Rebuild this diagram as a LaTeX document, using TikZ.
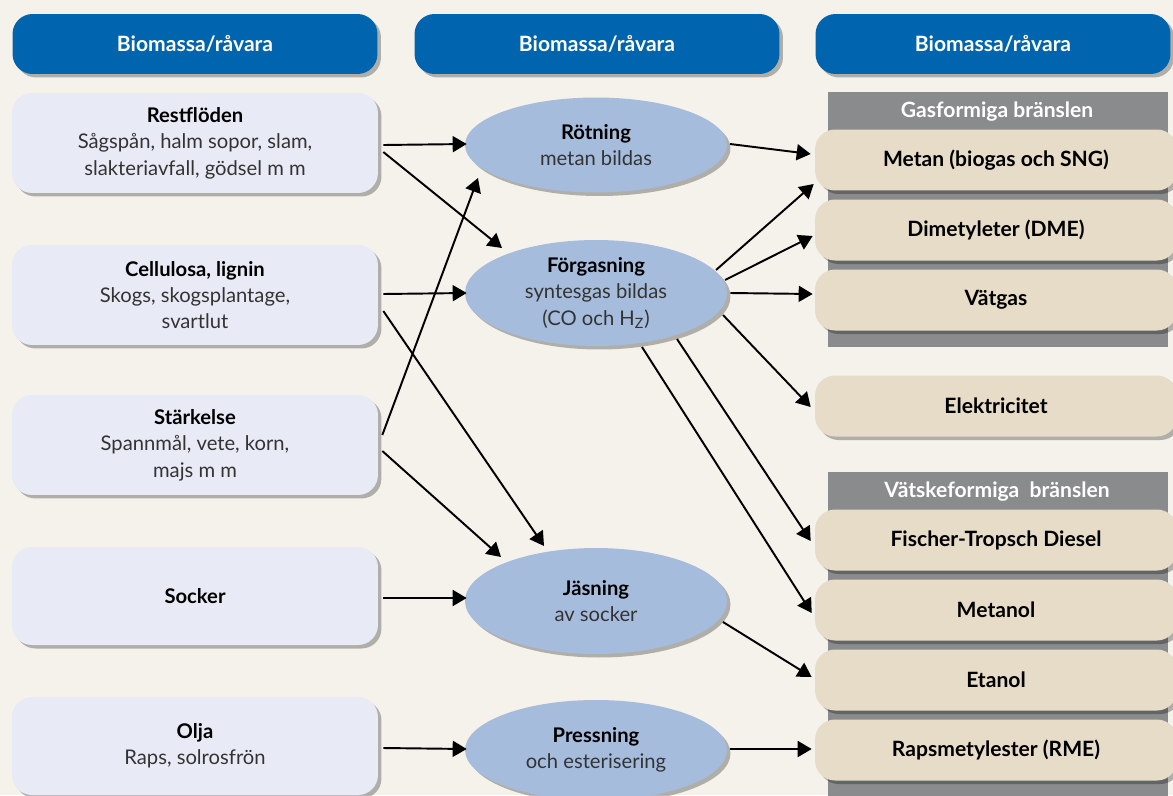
\documentclass[tikz,border=0pt]{standalone}
\usepackage{fontspec}
\setmainfont{Lato}
\usetikzlibrary{shapes.geometric,arrows.meta,shadows,calc}

\definecolor{bgcol}{HTML}{F5F2EB}
\definecolor{hdrblue}{HTML}{0064AE}
\definecolor{srcfill}{HTML}{E8EAF6}
\definecolor{procfill}{HTML}{A6BCDD}
\definecolor{fuelfill}{HTML}{E6DCC8}
\definecolor{panelgray}{HTML}{8A8B8D}
\definecolor{bodytext}{HTML}{333333}

\newcommand{\titlefont}{\fontsize{12}{15}\selectfont\bfseries}
\newcommand{\bodyfont}{\fontsize{11.5}{15}\selectfont}

\tikzset{
  boxshadow/.style={drop shadow={shadow xshift=0.07cm, shadow yshift=-0.07cm, fill=black, opacity=0.28}},
  hdr/.style={rectangle, rounded corners=0.4cm, fill=hdrblue, text=white, font=\titlefont,
    minimum width=7.3cm, minimum height=1.2cm, boxshadow},
  src/.style={rectangle, rounded corners=0.4cm, fill=srcfill, align=center, font=\bodyfont,
    text=bodytext, minimum width=7.32cm, minimum height=2cm, boxshadow},
  proc/.style={ellipse, fill=procfill, align=center, font=\bodyfont, text=bodytext,
    minimum width=5.24cm, minimum height=2.1cm, inner sep=0pt, boxshadow},
  fuel/.style={rectangle, rounded corners=0.4cm, fill=fuelfill, font=\titlefont,
    minimum width=7.24cm, minimum height=1.22cm, boxshadow},
  panel/.style={fill=panelgray},
  paneltitle/.style={text=white, font=\titlefont},
  arr/.style={-{Triangle[length=0.28cm,width=0.32cm]}, line width=1.1pt}
}

\newcommand{\hd}[1]{\textcolor{black}{\bfseries #1}}

\begin{document}
\begin{tikzpicture}[x=0.02cm, y=-0.02cm]
    \fill[bgcol] (0,0) rectangle (1173,795);
    \clip (0,0) rectangle (1173,795);

    % headers
    \node[hdr] (h1) at (195,44) {Biomassa/råvara};
    \node[hdr] (h2) at (597,44) {Biomassa/råvara};
    \node[hdr, minimum width=7.1cm] (h3) at (993,44) {Biomassa/råvara};

    % raw materials
    \node[src] (rest) at (195,143) {\hd{Restflöden}\\Sågspån, halm sopor, slam,\\slakteriavfall, gödsel m m};
    \node[src] (cell) at (195,295) {\hd{Cellulosa, lignin}\\Skogs, skogsplantage,\\svartlut};
    \node[src] (stark) at (195,445) {\hd{Stärkelse}\\Spannmål, vete, korn,\\majs m m};
    \node[src, minimum height=1.96cm] (socker) at (195,596) {\hd{Socker}};
    \node[src, minimum height=1.96cm] (olja) at (195,746) {\hd{Olja}\\Raps, solrosfrön};

    % processes
    \node[proc, minimum height=1.9cm] (rot) at (596,145) {\hd{Rötning}\\metan bildas};
    \node[proc, minimum height=2.12cm] (forg) at (596,293) {\hd{Förgasning}\\syntesgas bildas\\(CO och H\textsubscript{Z})};
    \node[proc, minimum height=2.12cm] (jas) at (596,601) {\hd{Jäsning}\\av socker};
    \node[proc, minimum height=2cm] (press) at (596,750) {\hd{Pressning}\\och esterisering};

    % fuel groups
    \fill[panel] (828,92) rectangle (1168,347);
    \node[paneltitle] (gas) at (997,112) {Gasformiga bränslen};
    \fill[panel] (828,472) rectangle (1168,800);
    \node[paneltitle] (liq) at (997,492) {Vätskeformiga\ \ bränslen};

    % products
    \node[fuel] (metan) at (996,160) {Metan (biogas och SNG)};
    \node[fuel] (dme) at (996,230) {Dimetyleter (DME)};
    \node[fuel] (vat) at (996,300) {Vätgas};
    \node[fuel] (el) at (996,406) {Elektricitet};
    \node[fuel] (ft) at (996,540) {Fischer-Tropsch Diesel};
    \node[fuel] (metanol) at (996,610) {Metanol};
    \node[fuel] (etanol) at (996,680) {Etanol};
    \node[fuel] (rme) at (996,750) {Rapsmetylester (RME)};

    % raw material -> process
    \draw[arr] ($(rest.east)+(5,2)$) -- ($(rot.west)+(2,-1)$);
    \draw[arr] ($(rest.east)+(5,9)$) -- ($(forg)+(-94,-45)$);
    \draw[arr] ($(cell.east)+(5,-1)$) -- ($(forg.west)+(2,0)$);
    \draw[arr] ($(cell.east)+(5,16)$) -- ($(jas)+(-52,-55)$);
    \draw[arr] ($(stark.east)+(4,-10)$) -- ($(rot)+(-118,33)$);
    \draw[arr] ($(stark.east)+(4,6)$) -- ($(jas)+(-95,-44)$);
    \draw[arr] ($(socker.east)+(5,2)$) -- ($(jas.west)+(2,-3)$);
    \draw[arr] ($(olja.east)+(5,2)$) -- ($(press.west)+(2,-1)$);

    % process -> product
    \draw[arr] ($(rot)+(134,-1)$) -- ($(metan.west)+(-4,-6)$);
    \draw[arr] ($(forg)+(120,-23)$) -- ($(metan.west)+(-1,24)$);
    \draw[arr] ($(forg)+(129,-13)$) -- ($(dme.west)+(-2,6)$);
    \draw[arr] ($(forg.east)+(3,0)$) -- ($(vat.west)+(-2,-6)$);
    \draw[arr] ($(forg)+(127,22)$) -- ($(el.west)+(-4,1)$);
    \draw[arr] ($(forg)+(81,46)$) -- ($(ft.west)+(-4,1)$);
    \draw[arr] ($(forg)+(46,54)$) -- ($(metanol.west)+(-3,3)$);
    \draw[arr] ($(jas)+(127,21)$) -- ($(etanol.west)+(-3,-3)$);
    \draw[arr] ($(press.east)+(3,-1)$) -- ($(rme.west)+(-3,-1)$);
\end{tikzpicture}
\end{document}
